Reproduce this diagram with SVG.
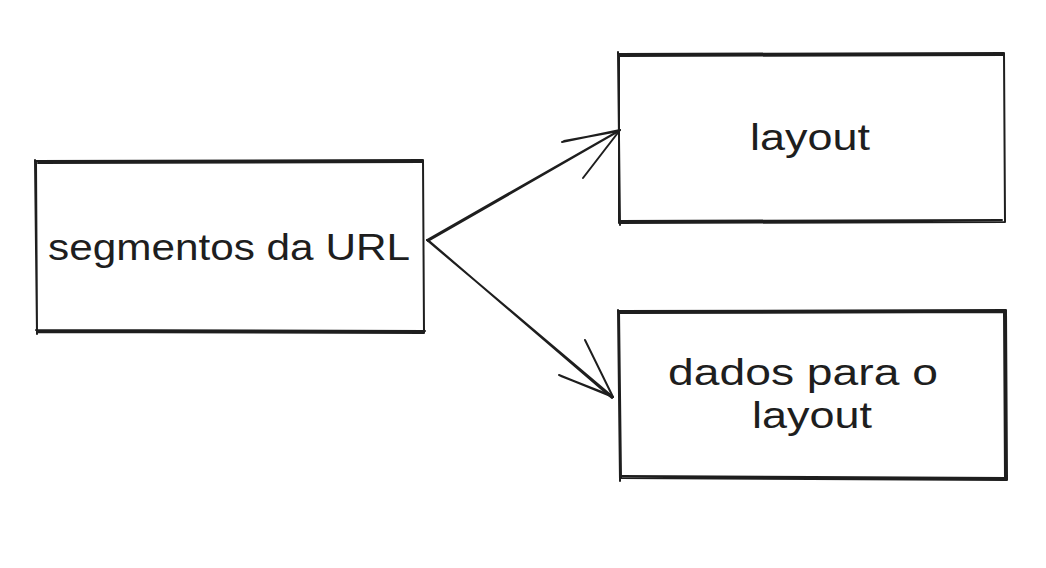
<svg xmlns="http://www.w3.org/2000/svg" width="1046" height="568" viewBox="0 0 1046 568">
<style>
.s{fill:none;stroke:#1e1e1e;stroke-width:2;stroke-linecap:round;stroke-linejoin:round}
.t{font-family:"Liberation Sans","DejaVu Sans",sans-serif;font-size:36px;fill:#1e1e1e;text-anchor:middle}
</style>
<rect width="1046" height="568" fill="#ffffff"/>
<g id="connectors">
<path class="s" d="M427 240 L620 130 M428 241 L619 131"/>
<path class="s" d="M562 142 L620 130 L583 178 M564 141 L619 131"/>
<path class="s" d="M427 240 L613 397 M429 241 L612 398"/>
<path class="s" d="M559 375 L613 397 L585 340 M561 376 L612 396"/>
</g>
<g id="node-segmentos">
<path class="s" d="M36 161 L423 160 L424 333 L37 332 Z M38 163 L422 162 M35 160 L37 334 M36 330 L425 331"/>
<text class="t" x="229" y="260" textLength="362" lengthAdjust="spacingAndGlyphs">segmentos da URL</text>
</g>
<g id="node-layout">
<path class="s" d="M619 54 L1004 53 L1005 222 L619 223 Z M620 56 L1003 55 M618 52 L620 225 M620 221 L1002 220"/>
<text class="t" x="810" y="150" textLength="120" lengthAdjust="spacingAndGlyphs">layout</text>
</g>
<g id="node-dados">
<path class="s" d="M619 311 L1006 310 L1007 480 L621 478 Z M620 313 L1005 312 M618 310 L620 481 M622 476 L1006 478 M1004 312 L1005 479"/>
<text class="t" x="803" y="385" textLength="270" lengthAdjust="spacingAndGlyphs">dados para o</text>
<text class="t" x="812" y="428" textLength="120" lengthAdjust="spacingAndGlyphs">layout</text>
</g>
</svg>
